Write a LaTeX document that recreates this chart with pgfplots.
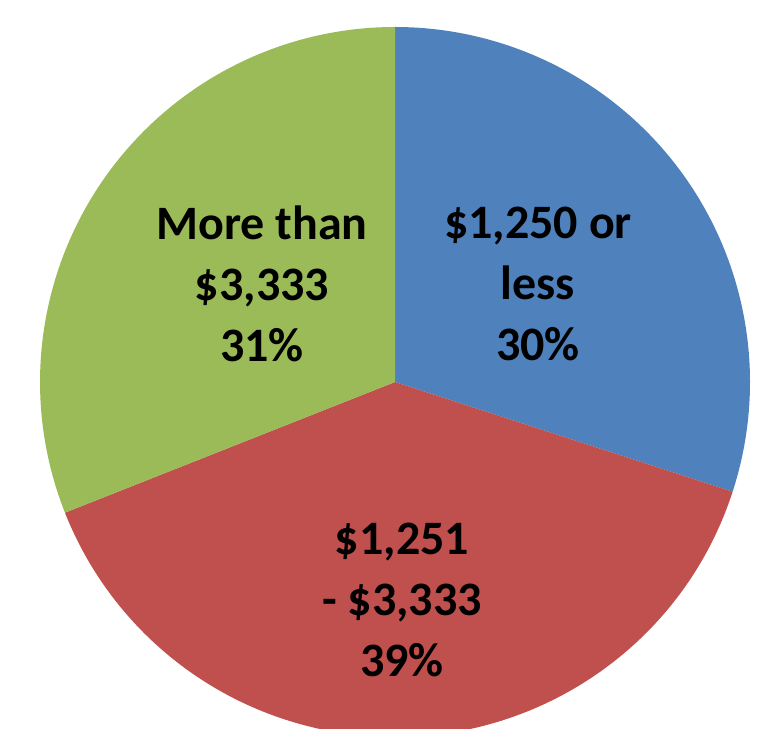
\documentclass[border=0pt]{standalone}
\usepackage{pgfplots}
\usepackage{pgfplotstable}
\pgfplotsset{compat=1.18}
\usepackage{fontspec}
\setmainfont{Carlito}
\definecolor{pieblue}{HTML}{4F81BD}
\definecolor{piered}{HTML}{C0504D}
\definecolor{piegreen}{HTML}{9BBB59}
\pgfplotstableread{
value
30
39
31
}\piedata
\begin{document}
\begin{tikzpicture}
\pgfplotstablegetelem{0}{value}\of\piedata \let\va\pgfplotsretval
\pgfplotstablegetelem{1}{value}\of\piedata \let\vb\pgfplotsretval
\pgfplotstablegetelem{2}{value}\of\piedata \let\vc\pgfplotsretval
\pgfmathsetmacro{\aA}{90}
\pgfmathsetmacro{\aB}{90-3.6*\va}
\pgfmathsetmacro{\aC}{\aB-3.6*\vb}
\pgfmathsetmacro{\aD}{\aC-3.6*\vc}
\begin{axis}[
  at={(0,0)}, anchor=south west,
  scale only axis, width=775pt, height=728pt,
  xmin=0, xmax=775, ymin=0, ymax=728,
  axis lines=none, ticks=none, clip=true,
]
\fill[pieblue] (axis cs:395,346) -- ++(\aA:355pt) arc[start angle=\aA, end angle=\aB, radius=355pt] -- cycle;
\fill[piered] (axis cs:395,346) -- ++(\aB:355pt) arc[start angle=\aB, end angle=\aC, radius=355pt] -- cycle;
\fill[piegreen] (axis cs:395,346) -- ++(\aC:355pt) arc[start angle=\aC, end angle=\aD, radius=355pt] -- cycle;
\node[align=center, font=\fontsize{48}{61}\bfseries\selectfont, text=black] at (axis cs:262,444) {More than\\\$3,333\\31\%};
\node[align=center, font=\fontsize{48}{61}\bfseries\selectfont, text=black] at (axis cs:538,444) {\$1,250 or\\less\\30\%};
\node[align=center, font=\fontsize{48}{61}\bfseries\selectfont, text=black] at (axis cs:402,128) {\$1,251\\- \$3,333\\39\%};
\end{axis}
\pgfresetboundingbox
\useasboundingbox (0,0) rectangle (775pt,728pt);
\end{tikzpicture}
\end{document}
